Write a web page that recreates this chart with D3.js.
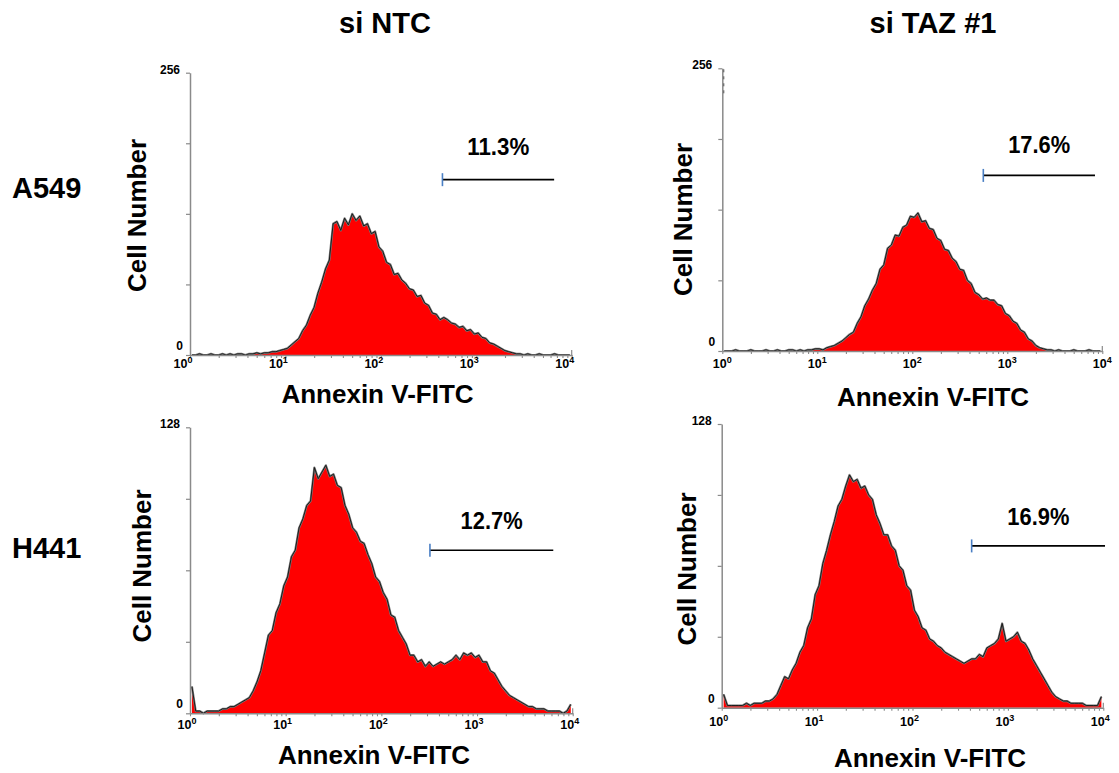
<!DOCTYPE html>
<html><head><meta charset="utf-8">
<script src="https://cdn.jsdelivr.net/npm/d3@7"></script>
<style>
body{margin:0;background:#fff}
svg{display:block}
text{font-family:"Liberation Sans",Arial,Helvetica,sans-serif;font-weight:bold;fill:#000}
</style>
</head><body><svg id="c" width="1119" height="773"></svg>
<script>
// ---------------- data ----------------
const columnTitles = ["si NTC", "si TAZ #1"];
const rowLabels = ["A549", "H441"];
const xAxisTitle = "Annexin V-FITC";
const yAxisTitle = "Cell Number";
const xTickExponents = [0, 1, 2, 3, 4];
const binStepLog = 0.04; // histogram bin width, in decades (100 bins over 10^0..10^4)

const countsA549NTC = [0,0,1,0,0,1,0,0,1,0,1,0,1,1,0,1,1,2,1,2,
  2,3,3,4,5, 6,9,12,15,22, 27,36,43,56,66, 78,86,119,121,113,
  124,118,128,122,126, 117,119,110,112,98, 94,84,82,73,74, 68,65,60,59,53,
  54,47,45,38,37, 32,34,32,29,28, 25,26,22,23,19, 20,16,15,11,10,
  8,6,4,3,2, 1,1,0,1,0, 0,1,0,0,0, 1,0,0,0,0];
const countsA549TAZ = [0,0,0,1,0,0,0,1,0,0,0,1,0,0,1,0,0,1,1,0,
  1,0,1,1,2, 2,1,3,4,5, 7,9,12,15,17, 25,31,41,47,55,
  61,74,78,93,96, 105,104,112,114,122, 121,125,117,118,111, 110,102,100,92,91,
  84,81,74,73,64, 61,53,51,47,48, 46,46,42,41,34, 32,27,25,19,17,
  11,9,5,3,2, 1,1,0,1,0, 0,0,1,0,0, 0,1,0,0,0];
const countsH441NTC = [12,1,1,0,1, 1,1,1,2,2, 3,3,4,5,6, 7,10,14,19,27,
  35,37,45,49,57, 61,70,73,83,87, 93,95,110,105,108, 111,106,107,102,101,
  93,89,83,81,77, 76,71,67,61,59, 54,51,44,43,37, 34,31,26,26,23,
  24,21,23,21,22, 23,22,23,24,26, 24,27,26,27,25, 26,23,23,19,18,
  15,12,10,8,7, 6,5,4,3,3, 2,2,2,1,1, 1,1,0,1,4];
const countsH441TAZ = [6,1,1,1,1, 1,2,1,2,2, 2,3,3,4,6, 10,14,13,17,20,
  25,28,36,40,51, 55,65,71,78,84, 91,94,100,105,102, 103,99,100,96,94,
  87,83,78,78,73, 71,64,62,55,53, 44,41,36,35,31, 30,28,27,25,24,
  23,22,21,20,21, 22,22,24,23,27, 28,29,31,38,30, 31,32,34,30,29,
  26,22,19,16,13, 10,7,5,4,3, 3,2,2,2,2, 1,1,1,1,5];

const yMaxes = [256, 256, 128, 128];
const gateStarts = [442, 559, 322, 417];
const gateEnds = [6546, 8375, 6266, 10423];
const gateLevels = [159, 159, 73, 73];
const gatePercents = ["11.3%", "17.6%", "12.7%", "16.9%"];

// ---------------- layout ----------------
const panels = [
  {counts: countsA549NTC, left:190, right:571.7, top:72.7, bottom:355, tickDy:12.7, tickDx:-7, ylabX:146, ylabY:215.5, xlabX:377.5, xlabY:403, pctDy:-25},
  {counts: countsA549TAZ, left:722.3, right:1102.3, top:68.3, bottom:351, tickDy:17.3, tickDx:0, ylabX:692, ylabY:219.5, xlabX:933, xlabY:406, pctDy:-22, dash:true},
  {counts: countsH441NTC, left:190, right:572.7, top:427.3, bottom:713.3, tickDy:16, tickDx:-3, ylabX:151, ylabY:566, xlabX:374, xlabY:764, pctDy:-21.5},
  {counts: countsH441TAZ, left:721.7, right:1103.3, top:424, bottom:707.7, tickDy:18.3, tickDx:-3, ylabX:696, ylabY:569, xlabX:930, xlabY:767, pctDy:-21}
];

const svg = d3.select("#c");
svg.append("rect").attr("width",1119).attr("height",773).attr("fill","#fff");

// titles
const titleX = [385, 933];
columnTitles.forEach((t,i)=>{
  svg.append("text").attr("x",titleX[i]).attr("y",33).attr("text-anchor","middle")
    .attr("font-size",29).text(t);
});
const rowY = [198, 558];
rowLabels.forEach((t,i)=>{
  svg.append("text").attr("x",12).attr("y",rowY[i]).attr("font-size",29).text(t);
});

const axisColor = "#8a8a8a";

panels.forEach((p, pi)=>{
  const g = svg.append("g");
  const x = d3.scaleLog().domain([1, 1e4]).range([p.left, p.right]);
  const y = d3.scaleLinear().domain([0, yMaxes[pi]]).range([p.bottom, p.top]);

  const data = p.counts.map((c,i)=>({v: Math.pow(10,(i+0.5)*binStepLog), c}));

  // histogram fill
  const area = d3.area().x(d=>x(d.v)).y0(y(0)).y1(d=>y(d.c)).curve(d3.curveLinear);
  g.append("path").datum(data).attr("d",area).attr("fill","#ff0000");
  const line = d3.line().x(d=>x(d.v)).y(d=>y(d.c)).curve(d3.curveLinear);
  g.append("path").datum(data).attr("d",line).attr("fill","none")
    .attr("stroke","#7a7a7a").attr("stroke-width",2.2).attr("stroke-linejoin","round");
  g.append("path").datum(data).attr("d",line).attr("fill","none")
    .attr("stroke","#111").attr("stroke-width",0.9).attr("stroke-linejoin","round");

  // y axis
  const yTicks = d3.range(0, 5).map(k=>k*yMaxes[pi]/4);
  const ya = g.append("g").attr("transform",`translate(${p.left},0)`)
    .call(d3.axisLeft(y).tickValues(yTicks).tickSize(4).tickSizeOuter(0).tickFormat(""));
  ya.select(".domain").attr("stroke",axisColor).attr("stroke-width",1.5);
  ya.selectAll(".tick line").attr("stroke",axisColor).attr("stroke-width",1.2);
  g.append("text").attr("x",p.left-10).attr("y",y(yMaxes[pi])+1).attr("text-anchor","end")
    .attr("font-size",12).text(yMaxes[pi]);
  g.append("text").attr("x",p.left-7).attr("y",y(0)-5).attr("text-anchor","end")
    .attr("font-size",12).text("0");

  if (p.dash) {
    g.append("line").attr("x1",p.left+1.5).attr("x2",p.left+1.5)
      .attr("y1",y(yMaxes[pi])+1).attr("y2",y(yMaxes[pi])+28)
      .attr("stroke","#555").attr("stroke-width",1).attr("stroke-dasharray","3,4");
  }

  // x axis
  const minor = [];
  xTickExponents.slice(0,-1).forEach(e=>{ for(let m=1;m<=9;m++) minor.push(m*Math.pow(10,e)); });
  minor.push(Math.pow(10, xTickExponents[xTickExponents.length-1]));
  const xa = g.append("g").attr("transform",`translate(0,${p.bottom})`)
    .call(d3.axisBottom(x).tickValues(minor).tickSize(3).tickSizeOuter(0).tickFormat(""));
  xa.select(".domain").attr("stroke",axisColor).attr("stroke-width",1.5);
  xa.selectAll(".tick line").attr("stroke",axisColor).attr("stroke-width",1.1);
  g.append("line").attr("x1",x(1e4)).attr("x2",x(1e4)).attr("y1",p.bottom).attr("y2",p.bottom-5)
    .attr("stroke",axisColor).attr("stroke-width",1.2);

  xTickExponents.forEach(e=>{
    const t = g.append("text").attr("x",x(Math.pow(10,e))+p.tickDx).attr("y",p.bottom+p.tickDy)
      .attr("text-anchor","middle").attr("font-size",12.5);
    t.append("tspan").text("10");
    t.append("tspan").attr("dy",-5).attr("font-size",9).text(e);
  });

  // axis titles
  g.append("text").attr("x",p.xlabX).attr("y",p.xlabY).attr("text-anchor","middle")
    .attr("font-size",26).text(xAxisTitle);
  g.append("text").attr("transform",`translate(${p.ylabX},${p.ylabY}) rotate(-90)`)
    .attr("text-anchor","middle").attr("font-size",26).text(yAxisTitle);

  // gate marker
  const gy = y(gateLevels[pi]);
  const gx0 = x(gateStarts[pi]), gx1 = x(gateEnds[pi]);
  g.append("line").attr("x1",gx0).attr("x2",gx1).attr("y1",gy).attr("y2",gy)
    .attr("stroke","#000").attr("stroke-width",1.6);
  g.append("line").attr("x1",gx0).attr("x2",gx0).attr("y1",gy-6.5).attr("y2",gy+6.5)
    .attr("stroke","#4a7fc4").attr("stroke-width",1.6);
  g.append("text").attr("x",(gx0+gx1)/2).attr("y",gy+p.pctDy).attr("text-anchor","middle")
    .attr("font-size",24).attr("textLength",62).attr("lengthAdjust","spacingAndGlyphs")
    .text(gatePercents[pi]);
});
</script>
</body></html>
